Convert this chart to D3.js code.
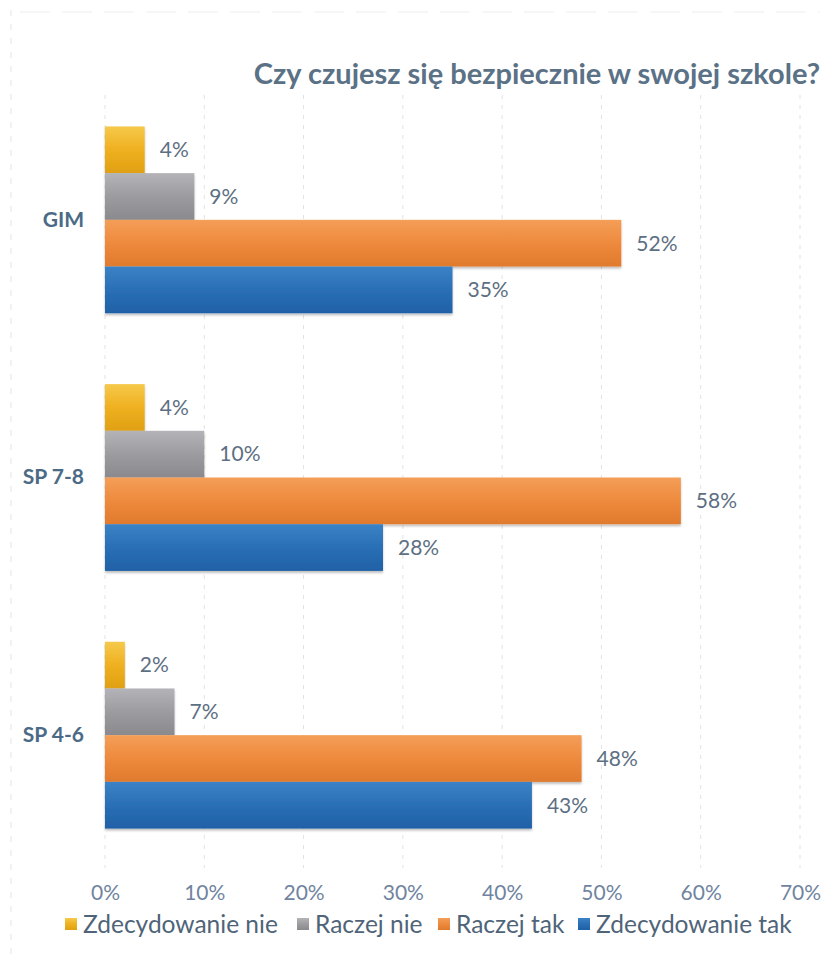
<!DOCTYPE html>
<html><head><meta charset="utf-8">
<script src="https://cdn.jsdelivr.net/npm/d3@7"></script>
<style>body{margin:0;background:#fff;} svg{display:block;}</style>
</head><body>
<script>
const categories = ["GIM", "SP 7-8", "SP 4-6"];
const seriesNames = ["Zdecydowanie nie", "Raczej nie", "Raczej tak", "Zdecydowanie tak"];
const zdecydowanieNie = [4, 4, 2];
const raczejNie = [9, 10, 7];
const raczejTak = [52, 58, 48];
const zdecydowanieTak = [35, 28, 43];
const xTicks = [0, 10, 20, 30, 40, 50, 60, 70];
const colors = ["#efb021", "#9c9ca0", "#ee8a3d", "#2a6fb6"];
const colorsLight = ["#f6c94a", "#b4b4b8", "#f49e58", "#3b82c6"];
const colorsDark = ["#e0a012", "#8a8a8e", "#e07a2d", "#1f60a6"];
const title = "Czy czujesz się bezpiecznie w swojej szkole?";

const seriesValues = [zdecydowanieNie, raczejNie, raczejTak, zdecydowanieTak];
const FONT = "Lato, 'Open Sans', sans-serif";

const W = 835, H = 963;
const svg = d3.select("body").append("svg").attr("width", W).attr("height", H);
const defs = svg.append("defs");
colors.forEach((c, i) => {
  const g = defs.append("linearGradient").attr("id", "g" + i).attr("x1", 0).attr("y1", 0).attr("x2", 0).attr("y2", 1);
  g.append("stop").attr("offset", "0%").attr("stop-color", colorsLight[i]);
  g.append("stop").attr("offset", "50%").attr("stop-color", c);
  g.append("stop").attr("offset", "100%").attr("stop-color", colorsDark[i]);
});
const f = defs.append("filter").attr("id", "shadow").attr("x", "-5%").attr("y", "-10%").attr("width", "110%").attr("height", "130%");
f.append("feDropShadow").attr("dx", 0).attr("dy", 2).attr("stdDeviation", 1.2).attr("flood-color", "#000").attr("flood-opacity", 0.25);

// faint frame lines (scan look)
svg.append("line").attr("x1", 11).attr("x2", 11).attr("y1", 10).attr("y2", 955)
  .attr("stroke", "#e4e4e4").attr("stroke-dasharray", "6,8");
svg.append("line").attr("x1", 20).attr("x2", 820).attr("y1", 12).attr("y2", 12)
  .attr("stroke", "#eeeeee").attr("stroke-dasharray", "30,12");

const x = d3.scaleLinear().domain([0, 70]).range([105, 800]);
const y = d3.scaleBand().domain(categories).range([91, 864]).paddingInner(0.275).paddingOuter(0.1375);
const ys = d3.scaleBand().domain(seriesNames).range([0, y.bandwidth()]);

// gridlines
svg.append("g").selectAll("line").data(xTicks).join("line")
  .attr("x1", d => x(d)).attr("x2", d => x(d))
  .attr("y1", 95).attr("y2", 868)
  .attr("stroke", "#e2e2e2").attr("stroke-width", 1).attr("stroke-dasharray", "4,6");

// x axis
const xAxis = d3.axisBottom(x).tickValues(xTicks).tickFormat(d => d + "%").tickSize(0).tickPadding(0);
const ax = svg.append("g").attr("transform", "translate(0,893)").call(xAxis);
ax.select(".domain").remove();
ax.selectAll("text").attr("font-family", FONT).attr("font-size", 21)
  .attr("fill", "#7084a0").attr("dy", "0.35em");

// y axis labels
const yAxis = d3.axisLeft(y).tickSize(0).tickPadding(0);
const ay = svg.append("g").attr("transform", "translate(84,0)").call(yAxis);
ay.select(".domain").remove();
ay.selectAll("text").attr("font-family", FONT).attr("font-size", 21)
  .attr("font-weight", "bold").attr("fill", "#4b6a86");

// bars
const rows = [];
categories.forEach((c, ci) => seriesNames.forEach((s, si) => rows.push({c, s, si, v: seriesValues[si][ci]})));
const bars = svg.append("g");
bars.selectAll("rect").data(rows).join("rect")
  .attr("x", x(0))
  .attr("y", d => y(d.c) + ys(d.s))
  .attr("width", d => x(d.v) - x(0))
  .attr("height", ys.bandwidth())
  .attr("fill", d => `url(#g${d.si})`)
  .attr("filter", "url(#shadow)");

svg.append("g").selectAll("text").data(rows).join("text")
  .attr("x", d => x(d.v) + 15)
  .attr("y", d => y(d.c) + ys(d.s) + ys.bandwidth() / 2)
  .attr("dy", "0.35em")
  .attr("font-family", FONT).attr("font-size", 21)
  .attr("fill", "#5d6f82")
  .text(d => d.v + "%");

// title
svg.append("text").attr("x", 820).attr("y", 84).attr("text-anchor", "end")
  .attr("font-family", FONT).attr("font-size", 29).attr("font-weight", "bold")
  .attr("fill", "#5a7186").text(title);

// legend
const legendX = [65, 297, 438, 578];
const lg = svg.append("g").selectAll("g").data(seriesNames).join("g")
  .attr("transform", (d, i) => `translate(${legendX[i]},924)`);
lg.append("rect").attr("x", 0).attr("y", -6).attr("width", 12).attr("height", 12)
  .attr("fill", (d, i) => `url(#g${i})`);
lg.append("text").attr("x", 18).attr("y", 0).attr("dy", "0.35em")
  .attr("font-family", FONT).attr("font-size", 24.5)
  .attr("fill", "#4f6478").text(d => d);
</script>
</body></html>
